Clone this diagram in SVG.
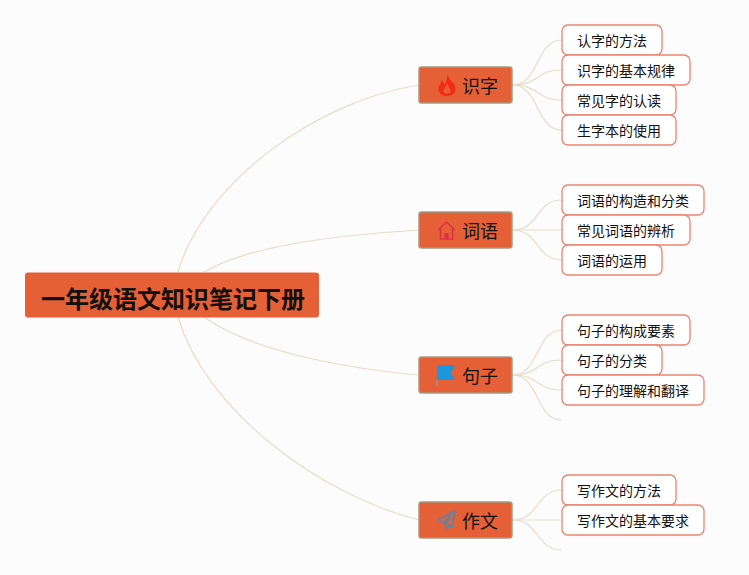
<svg xmlns="http://www.w3.org/2000/svg" width="749" height="575" viewBox="0 0 749 575">
<style>
text{font-family:"Noto Sans CJK SC","Noto Sans",sans-serif;fill:#111;dominant-baseline:central}
.c{fill:none;stroke:#e7dcc8;stroke-width:1.200}
.l1 rect{fill:#e66037;stroke:#a39a80;stroke-width:1.500}
.l1 text{font-size:18px}
.l2 rect{fill:#fff;stroke:#ea8570;stroke-width:1.300}
.l2 text{font-size:14px}
</style>
<rect width="749" height="575" fill="#fcfcfc"/>
<g id="connectors">
<path class="c" d="M178 272C205 180 320 100 419 85"/>
<path class="c" d="M204 272C250 245 340 235 419 230"/>
<path class="c" d="M204 317C250 350 340 368 419 375"/>
<path class="c" d="M178 317C205 410 320 495 419 520"/>
<path class="c" d="M512 85C540 85 535 40 562 40"/>
<path class="c" d="M512 85C540 85 535 70 562 70"/>
<path class="c" d="M512 85C540 85 535 100 562 100"/>
<path class="c" d="M512 85C540 85 535 130 562 130"/>
<path class="c" d="M512 230C540 230 535 200 562 200"/>
<path class="c" d="M512 230H562"/>
<path class="c" d="M512 230C540 230 535 260 562 260"/>
<path class="c" d="M512 375C540 375 535 330 562 330"/>
<path class="c" d="M512 375C540 375 535 360 562 360"/>
<path class="c" d="M512 375C540 375 535 390 562 390"/>
<path class="c" d="M512 375C540 375 535 420 562 420"/>
<path class="c" d="M512 520C540 520 535 490 562 490"/>
<path class="c" d="M512 520H562"/>
<path class="c" d="M512 520C540 520 535 550 562 550"/>
</g>
<g id="root"><rect x="25" y="272.500" width="294" height="45" rx="3" fill="#e66037"/><text x="41" y="297" font-size="24" font-weight="700">一年级语文知识笔记下册</text></g>
<g id="n1" class="l1"><rect x="419" y="67" width="93" height="36" rx="2.500"/>
<path d="M447.500 74.500C449 80 455 83 455.500 88.500C456 93 452 96 447 96C442 96 438 93 438.500 88C439 85 441 83 442 80C443 82 444 84 445 84.500C446.500 81 447 78 447.500 74.500ZM447 83C446 87 443 89 443.500 92C444 94 450 94 450.500 92C451 89 448 86 447 83Z" fill="#f5291a" fill-rule="evenodd"/>
<text x="462" y="85">识字</text></g>
<g id="n2" class="l1"><rect x="419" y="212" width="93" height="36" rx="2.500"/>
<path d="M438 230L446.500 222L455 230M440.500 228V239H452.500V228" fill="none" stroke="#dc3045" stroke-width="1.500"/><path d="M444.500 233H448.500V239H444.500Z" fill="#dc3045"/>
<text x="462" y="230">词语</text></g>
<g id="n3" class="l1"><rect x="419" y="357" width="93" height="36" rx="2.500"/>
<path d="M437 365H455L451 373L455 380H437Z" fill="#1c96dc"/><path d="M437 380V386" stroke="#7f9fb0" stroke-width="1.200"/>
<text x="462" y="375">句子</text></g>
<g id="n4" class="l1"><rect x="419" y="502" width="93" height="36" rx="2.500"/>
<path d="M455 511L438 520L444 523L450 516L446 525V529L449 525.500L452 527Z" fill="none" stroke="#5a86aa" stroke-width="1.900" stroke-linejoin="round"/>
<text x="462" y="520">作文</text></g>
<g id="a1" class="l2"><rect x="562" y="25" width="100" height="30" rx="6"/><text x="577" y="40">认字的方法</text></g>
<g id="a2" class="l2"><rect x="562" y="55" width="128" height="30" rx="6"/><text x="577" y="70">识字的基本规律</text></g>
<g id="a3" class="l2"><rect x="562" y="85" width="114" height="30" rx="6"/><text x="577" y="100">常见字的认读</text></g>
<g id="a4" class="l2"><rect x="562" y="115" width="114" height="30" rx="6"/><text x="577" y="130">生字本的使用</text></g>
<g id="b1" class="l2"><rect x="562" y="185" width="142" height="30" rx="6"/><text x="577" y="200">词语的构造和分类</text></g>
<g id="b2" class="l2"><rect x="562" y="215" width="128" height="30" rx="6"/><text x="577" y="230">常见词语的辨析</text></g>
<g id="b3" class="l2"><rect x="562" y="245" width="100" height="30" rx="6"/><text x="577" y="260">词语的运用</text></g>
<g id="c1" class="l2"><rect x="562" y="315" width="128" height="30" rx="6"/><text x="577" y="330">句子的构成要素</text></g>
<g id="c2" class="l2"><rect x="562" y="345" width="100" height="30" rx="6"/><text x="577" y="360">句子的分类</text></g>
<g id="c3" class="l2"><rect x="562" y="375" width="142" height="30" rx="6"/><text x="577" y="390">句子的理解和翻译</text></g>
<g id="d1" class="l2"><rect x="562" y="475" width="114" height="30" rx="6"/><text x="577" y="490">写作文的方法</text></g>
<g id="d2" class="l2"><rect x="562" y="505" width="142" height="30" rx="6"/><text x="577" y="520">写作文的基本要求</text></g>
</svg>
